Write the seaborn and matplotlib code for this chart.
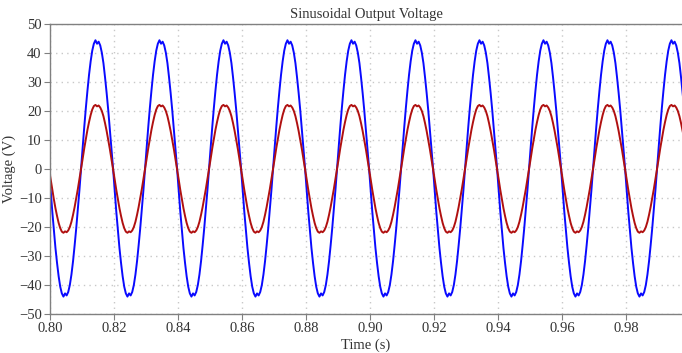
import matplotlib
matplotlib.use('Agg')
import matplotlib.pyplot as plt
import seaborn as sns
import numpy as np
import pandas as pd

# one period of each waveform, every 0.5 ms,
# starting at the falling zero crossing just before t = 0.80 s
sample_step = 0.0005
period = 0.02
start_time = 0.7997
n_cycles = 10

blue_cycle = [0.3, -7.2, -14.5, -21.0, -27.2, -32.4, -37.0, -40.6, -42.9, -44.0,
              -42.9, -43.6, -42.4, -40.0, -36.4, -31.8, -26.3, -20.4, -13.9, -7.2,
              0.2, 7.3, 14.4, 21.0, 27.0, 32.5, 37.1, 40.8, 43.2, 44.4,
              43.2, 43.9, 42.6, 40.1, 36.5, 31.6, 26.2, 20.3, 13.8, 7.0]
red_cycle = [0.0, -3.5, -7.1, -10.4, -13.5, -16.2, -18.6, -20.4, -21.6, -22.0,
             -21.5, -21.8, -21.2, -20.0, -18.2, -15.8, -13.1, -10.1, -6.9, -3.5,
             0.0, 3.5, 7.1, 10.4, 13.5, 16.2, 18.6, 20.5, 21.7, 22.1,
             21.6, 21.9, 21.2, 20.0, 18.2, 15.8, 13.1, 10.1, 6.9, 3.5]

x_ticks = [0.80, 0.82, 0.84, 0.86, 0.88, 0.90, 0.92, 0.94, 0.96, 0.98]
y_ticks = [-50, -40, -30, -20, -10, 0, 10, 20, 30, 40, 50]

blue_vals = np.tile(blue_cycle, n_cycles)
red_vals = np.tile(red_cycle, n_cycles)
time = start_time + np.arange(len(blue_vals)) * sample_step

df = pd.DataFrame({"time": time, "blue": blue_vals, "red": red_vals})

sns.set_theme(style="white")
plt.rcParams['font.family'] = ['Liberation Serif', 'DejaVu Serif']

fig = plt.figure(figsize=(6.82, 3.53), dpi=100)
ax = fig.add_axes([50 / 682, 39 / 353, 1 - 50 / 682, 290 / 353])

sns.lineplot(data=df, x="time", y="blue", ax=ax, color="#0a0aff", lw=1.4,
             estimator=None, sort=False)
sns.lineplot(data=df, x="time", y="red", ax=ax, color="#b01010", lw=1.4,
             estimator=None, sort=False)

ax.set_xlim(0.80, 0.9975)
ax.set_ylim(-50, 50)
ax.set_xticks(x_ticks)
ax.set_xticklabels([f"{v:.2f}" for v in x_ticks])
ax.set_yticks(y_ticks)
ax.grid(True, color="#c8c8c8", linestyle=(0, (1, 3)), linewidth=1.0)

for side in ["left", "bottom", "top"]:
    ax.spines[side].set_color("#808080")
    ax.spines[side].set_linewidth(1.0)
ax.spines["right"].set_visible(False)

ax.tick_params(axis="both", direction="out", length=4, width=0.8,
               color="#808080", labelsize=10.5, labelcolor="#333333",
               bottom=True, left=True, pad=2)

ax.set_title("Sinusoidal Output Voltage", fontsize=10.5, color="#333333", pad=4)
ax.set_xlabel("Time (s)", fontsize=10.5, color="#333333", labelpad=2)
ax.set_ylabel("Voltage (V)", fontsize=10.5, color="#333333", labelpad=2)

plt.savefig("out.png", dpi=100)
plt.close()
